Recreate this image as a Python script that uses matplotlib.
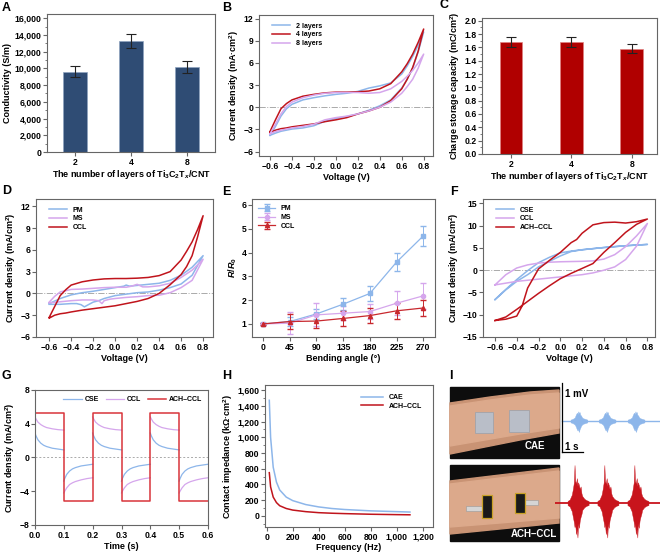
import numpy as np
import matplotlib
matplotlib.use("Agg")
import matplotlib.pyplot as plt
from matplotlib.patches import Rectangle, Polygon
from matplotlib.ticker import FuncFormatter, AutoMinorLocator

plt.rcParams['font.family'] = ['Liberation Sans', 'DejaVu Sans']
plt.rcParams['font.weight'] = 'bold'
plt.rcParams['axes.labelweight'] = 'bold'
plt.rcParams['mathtext.fontset'] = 'custom'
plt.rcParams['mathtext.rm'] = 'Liberation Sans:bold'
plt.rcParams['mathtext.it'] = 'Liberation Sans:italic:bold'
plt.rcParams['mathtext.bf'] = 'Liberation Sans:bold'
plt.rcParams['axes.unicode_minus'] = True

# ---------------- data ----------------
layers = ['2', '4', '8']
conductivity = [9600, 13250, 10200]
conductivity_err = [650, 850, 700]
charge_cap = [1.68, 1.68, 1.58]
charge_cap_err = [0.07, 0.08, 0.07]

# Panel B (CV, different layers) upper/lower branches on a shared voltage grid
vB = [-0.6, -0.55, -0.5, -0.45, -0.4, -0.3, -0.2, -0.1, 0.0, 0.1, 0.2, 0.3, 0.4, 0.5, 0.6, 0.65, 0.7, 0.75, 0.8]
l2_up = [-3.8, -2.6, -1.2, -0.2, 0.4, 1.0, 1.3, 1.55, 1.75, 1.9, 2.15, 2.6, 2.9, 3.3, 4.5, 5.6, 6.9, 8.4, 10.2]
l2_dn = [-3.8, -3.5, -3.25, -3.1, -2.95, -2.8, -2.5, -1.9, -1.5, -1.25, -0.9, -0.4, 0.2, 1.0, 2.6, 3.8, 5.3, 7.5, 10.2]
l4_up = [-3.3, -1.7, -0.2, 0.5, 1.0, 1.5, 1.75, 1.95, 2.05, 2.05, 2.1, 2.2, 2.5, 3.2, 4.8, 5.9, 7.2, 8.8, 10.6]
l4_dn = [-3.4, -3.1, -2.9, -2.8, -2.65, -2.45, -2.25, -1.95, -1.7, -1.4, -0.9, -0.5, 0.0, 0.9, 2.5, 3.8, 5.4, 7.6, 10.6]
l8_up = [-3.6, -2.3, -0.9, 0.1, 0.7, 1.3, 1.65, 1.9, 2.0, 2.0, 2.0, 1.9, 2.0, 2.5, 3.5, 4.2, 5.0, 6.0, 7.2]
l8_dn = [-3.6, -3.3, -3.1, -2.95, -2.8, -2.6, -2.3, -1.7, -1.4, -1.2, -0.9, -0.5, 0.0, 0.7, 1.9, 2.8, 3.8, 5.3, 7.2]

# Panel D (CV, PM / MS / CCL)
pm_v_up = [-0.6, -0.5, -0.4, -0.3, -0.2, -0.1, 0.0, 0.08, 0.1, 0.13, 0.2, 0.3, 0.4, 0.5, 0.6, 0.7, 0.8]
pm_i_up = [-1.4, -0.7, -0.2, 0.1, 0.3, 0.55, 0.8, 1.0, 1.15, 1.0, 1.1, 1.25, 1.4, 1.8, 2.5, 3.6, 5.2]
pm_v_dn = [0.8, 0.7, 0.6, 0.5, 0.4, 0.3, 0.2, 0.1, 0.0, -0.1, -0.15, -0.2, -0.25, -0.28, -0.31, -0.35, -0.4, -0.5, -0.6]
pm_i_dn = [5.2, 2.5, 1.3, 0.8, 0.45, 0.2, 0.1, -0.1, -0.3, -0.7, -1.0, -1.2, -1.6, -1.85, -1.55, -1.4, -1.4, -1.5, -1.5]
ms_v_up = [-0.6, -0.55, -0.5, -0.4, -0.3, -0.2, -0.1, 0.0, 0.1, 0.15, 0.2, 0.25, 0.3, 0.4, 0.5, 0.6, 0.7, 0.8]
ms_i_up = [-1.2, -0.4, 0.2, 0.55, 0.6, 0.7, 0.8, 0.85, 0.85, 1.0, 1.25, 0.9, 0.9, 1.05, 1.4, 2.2, 3.2, 4.7]
ms_v_dn = [0.8, 0.7, 0.6, 0.5, 0.4, 0.3, 0.2, 0.1, 0.0, -0.05, -0.1, -0.12, -0.15, -0.2, -0.3, -0.4, -0.5, -0.6]
ms_i_dn = [4.7, 1.8, 0.8, 0.1, -0.25, -0.3, -0.45, -0.55, -0.7, -0.8, -1.0, -1.4, -1.0, -0.9, -0.9, -1.0, -1.15, -1.3]
ccl_v = [-0.6, -0.55, -0.5, -0.45, -0.4, -0.3, -0.2, -0.1, 0.0, 0.1, 0.2, 0.3, 0.4, 0.5, 0.6, 0.65, 0.7, 0.75, 0.8]
ccl_up = [-3.3, -1.8, -0.3, 0.5, 1.15, 1.6, 1.85, 2.0, 2.05, 2.05, 2.1, 2.2, 2.45, 3.0, 4.6, 5.8, 7.1, 8.8, 10.7]
ccl_dn = [-3.4, -3.0, -2.8, -2.7, -2.55, -2.3, -2.1, -1.9, -1.7, -1.4, -1.1, -0.7, 0.0, 1.2, 2.6, 3.7, 5.2, 7.8, 10.7]

# Panel E (bending)
angles = [0, 45, 90, 135, 180, 225, 270]
pm_r = [1.0, 1.1, 1.42, 1.83, 2.28, 3.6, 4.7]
pm_r_err = [0.03, 0.2, 0.2, 0.25, 0.32, 0.37, 0.42]
ms_r = [1.0, 1.03, 1.38, 1.45, 1.52, 1.87, 2.18]
ms_r_err = [0.03, 0.47, 0.48, 0.3, 0.3, 0.5, 0.55]
ccl_r = [1.0, 1.1, 1.12, 1.23, 1.35, 1.55, 1.67]
ccl_r_err = [0.03, 0.3, 0.3, 0.3, 0.3, 0.33, 0.35]

# Panel F (CV, CSE / CCL / ACH-CCL)
vF = [-0.6, -0.5, -0.4, -0.3, -0.2, -0.1, 0.0, 0.1, 0.2, 0.3, 0.4, 0.5, 0.6, 0.7, 0.8]
cse_up = [-6.6, -4.3, -2.1, -0.1, 1.7, 2.9, 3.9, 4.3, 4.6, 4.85, 5.1, 5.3, 5.5, 5.65, 5.8]
cse_dn = [-6.6, -4.4, -2.5, -1.0, 0.75, 2.0, 3.2, 4.2, 4.6, 4.85, 5.1, 5.3, 5.5, 5.65, 5.8]
cclF_up = [-3.3, -1.0, 0.5, 1.2, 1.6, 1.8, 1.9, 1.95, 2.0, 2.1, 2.5, 3.5, 5.3, 7.7, 10.5]
cclF_dn = [-3.3, -2.9, -2.5, -2.25, -2.0, -1.75, -1.5, -1.25, -1.0, -0.6, 0.0, 0.75, 2.4, 5.4, 10.5]
ach_v_up = [-0.6, -0.5, -0.4, -0.35, -0.3, -0.2, -0.1, 0.0, 0.1, 0.15, 0.2, 0.3, 0.4, 0.5, 0.6, 0.7, 0.8]
ach_i_up = [-11.3, -11.0, -10.3, -8.0, -4.0, 0.3, 2.2, 4.0, 6.2, 6.9, 8.3, 10.2, 10.7, 10.8, 10.6, 10.9, 11.5]
ach_v_dn = [0.8, 0.7, 0.6, 0.5, 0.4, 0.3, 0.2, 0.1, 0.0, -0.1, -0.2, -0.3, -0.4, -0.5, -0.6]
ach_i_dn = [11.5, 10.3, 8.5, 6.2, 4.0, 1.5, 0.4, -0.7, -1.9, -3.5, -5.2, -7.0, -8.8, -10.5, -11.3]

# Panel G (pulse response): one half-period shape, repeated each cycle
g_edges = [0.0, 0.1, 0.2, 0.3, 0.4, 0.5, 0.6]
ach_pos, ach_neg = 5.3, -5.2
g_t = [0.0, 0.003, 0.01, 0.02, 0.03, 0.04, 0.06, 0.08, 0.1]
ccl_pos = [4.8, 4.6, 4.2, 3.9, 3.7, 3.55, 3.4, 3.3, 3.25]
ccl_neg = [-4.2, -4.0, -3.6, -3.2, -3.0, -2.85, -2.65, -2.5, -2.4]
cse_pos = [2.9, 2.6, 2.1, 1.7, 1.45, 1.3, 1.1, 1.0, 0.9]
cse_neg = [-2.8, -2.5, -2.0, -1.6, -1.35, -1.2, -1.0, -0.9, -0.8]

# Panel H (impedance)
freq = [20, 30, 50, 75, 100, 150, 200, 300, 400, 500, 600, 800, 1000, 1100]
cae_z = [1470, 1000, 620, 430, 330, 240, 195, 145, 115, 95, 82, 65, 55, 50]
ach_z = [550, 370, 240, 170, 130, 95, 75, 55, 42, 35, 30, 22, 17, 15]

# Panel I (EMG): burst centres (s) and envelopes (mV)
blue_bursts = [1.14, 2.48, 3.86]
red_bursts = [1.10, 2.52, 3.95]
bb_off = [-0.4, -0.3, -0.2, -0.15, -0.1, -0.06, -0.03, 0.0, 0.03, 0.06, 0.1, 0.15, 0.2, 0.3, 0.4]
bb_up = [0.02, 0.03, 0.05, 0.09, 0.12, 0.1, 0.14, 0.11, 0.13, 0.09, 0.08, 0.05, 0.04, 0.03, 0.02]
bb_lo = [-0.02, -0.03, -0.05, -0.08, -0.12, -0.14, -0.11, -0.16, -0.12, -0.1, -0.07, -0.05, -0.04, -0.03, -0.02]
rb_off = [-0.5, -0.4, -0.3, -0.25, -0.2, -0.17, -0.14, -0.1, -0.06, -0.03, 0.0, 0.04, 0.08, 0.12, 0.16, 0.2, 0.3, 0.4, 0.5]
rb_up = [0.03, 0.05, 0.12, 0.2, 0.3, 0.55, 0.32, 0.28, 0.36, 0.25, 0.3, 0.26, 0.2, 0.24, 0.14, 0.1, 0.06, 0.04, 0.03]
rb_lo = [-0.03, -0.05, -0.12, -0.2, -0.28, -0.35, -0.3, -0.45, -0.38, -0.5, -0.3, -0.36, -0.25, -0.2, -0.16, -0.1, -0.06, -0.04, -0.03]

# ---------------- style ----------------
BLUE = '#8db6ea'
RED = '#c0141c'
LILAC = '#d5a6ec'
BAR_BLUE = '#2f4c74'
BAR_RED = '#b00000'
SPINE = '#666666'
TFS = 6.2
LFS = 6.5

W, H = 660, 553
fig = plt.figure(figsize=(W / 100, H / 100), dpi=100)


def axpx(l, r, t, b):
    return fig.add_axes([l / W, 1 - b / H, (r - l) / W, (b - t) / H])


def style(ax, minor_y=False):
    for s in ax.spines.values():
        s.set_color(SPINE)
        s.set_linewidth(0.8)
    ax.tick_params(direction='out', length=2.8, width=0.8, colors='black',
                   labelsize=TFS, pad=1.2)
    ax.tick_params(axis='both', which='both', color=SPINE)
    if minor_y:
        ax.yaxis.set_minor_locator(AutoMinorLocator(2))
        ax.tick_params(axis='y', which='minor', length=1.6, width=0.6)
    for lab in ax.get_xticklabels() + ax.get_yticklabels():
        lab.set_fontweight('bold')


comma = FuncFormatter(lambda v, p: f'{v:,.0f}')
volt = FuncFormatter(lambda v, p: f'{v:.1f}'.replace('-', '\u2212'))
ti_label = r'The number of layers of Ti$_3$C$_2$T$_x$/CNT'


def panel_letter(x, y, s):
    fig.text(x / W, 1 - y / H, s, fontsize=9, fontweight='bold', va='baseline')


def zero_line(ax, ls='-.'):
    ax.axhline(0, color='#aaaaaa', lw=0.7, ls=ls, zorder=0)


def leg(ax, **kw):
    return ax.legend(frameon=False, prop={'size': 5, 'weight': 'bold'}, **kw)

# ---- A ----
ax = axpx(47, 215, 14, 152)
x = np.arange(1, 4)
ax.bar(x, conductivity, width=0.42, color=BAR_BLUE, edgecolor='#8ea3c0', lw=0.5,
       yerr=conductivity_err, capsize=3.5, error_kw=dict(lw=0.8, capthick=0.8, ecolor='#222222'))
ax.set_xlim(0.5, 3.5)
ax.set_ylim(0, 16500)
ax.set_yticks(range(0, 16001, 2000))
ax.yaxis.set_major_formatter(comma)
ax.set_xticks(x)
ax.set_xticklabels(layers)
ax.set_ylabel('Conductivity (S/m)', fontsize=LFS, labelpad=1.5)
ax.set_xlabel(ti_label, fontsize=LFS, labelpad=1)
style(ax, minor_y=True)
panel_letter(2, 11, 'A')

# ---- B ----
ax = axpx(259, 433, 15, 156)
zero_line(ax)
ax.plot(vB + vB[::-1], l2_up + l2_dn[::-1], color=BLUE, lw=1.1, label='2 layers')
ax.plot(vB + vB[::-1], l4_up + l4_dn[::-1], color=RED, lw=1.1, label='4 layers')
ax.plot(vB + vB[::-1], l8_up + l8_dn[::-1], color=LILAC, lw=1.1, label='8 layers')
ax.set_xlim(-0.7, 0.885)
ax.set_ylim(-6.6, 12.5)
ax.set_yticks(range(-6, 13, 3))
ax.set_xticks(np.round(np.arange(-0.6, 0.81, 0.2), 1))
ax.xaxis.set_major_formatter(volt)
ax.set_ylabel('Current density (mA·cm$^2$)', fontsize=LFS, labelpad=1.5)
ax.set_xlabel('Voltage (V)', fontsize=LFS, labelpad=1.5)
leg(ax, loc='upper left', bbox_to_anchor=(0.04, 0.99), handlelength=2.6, labelspacing=0.25)
style(ax)
panel_letter(222, 11, 'B')

# ---- C ----
ax = axpx(482, 657, 18, 154)
ax.bar(x, charge_cap, width=0.38, color=BAR_RED, edgecolor='#e08080', lw=0.5,
       yerr=charge_cap_err, capsize=3.5, error_kw=dict(lw=0.8, capthick=0.8, ecolor='#222222'))
ax.set_xlim(0.52, 3.42)
ax.set_ylim(0, 2.04)
ax.set_yticks(np.round(np.arange(0, 2.01, 0.2), 1))
ax.yaxis.set_major_formatter(FuncFormatter(lambda v, p: f'{v:.1f}'))
ax.set_xticks(x)
ax.set_xticklabels(layers)
ax.set_ylabel('Charge storage capacity (mC/cm$^2$)', fontsize=LFS, labelpad=1.5)
ax.set_xlabel(ti_label, fontsize=LFS, labelpad=1)
style(ax, minor_y=True)
panel_letter(440, 8, 'C')

# ---- D ----
ax = axpx(36, 213, 199, 337)
zero_line(ax)
ax.plot(pm_v_up + pm_v_dn, pm_i_up + pm_i_dn, color=BLUE, lw=1.1, label='PM')
ax.plot(ms_v_up + ms_v_dn, ms_i_up + ms_i_dn, color=LILAC, lw=1.1, label='MS')
ax.plot(ccl_v + ccl_v[::-1], ccl_up + ccl_dn[::-1], color=RED, lw=1.1, label='CCL')
ax.set_xlim(-0.72, 0.89)
ax.set_ylim(-6, 13.0)
ax.set_yticks(range(-6, 13, 3))
ax.set_xticks(np.round(np.arange(-0.6, 0.81, 0.2), 1))
ax.xaxis.set_major_formatter(volt)
ax.set_ylabel('Current density (mA/cm$^2$)', fontsize=LFS, labelpad=1.5)
ax.set_xlabel('Voltage (V)', fontsize=LFS, labelpad=1.5)
leg(ax, loc='upper left', bbox_to_anchor=(0.04, 0.99), handlelength=2.6, labelspacing=0.25)
style(ax)
panel_letter(2, 194, 'D')

# ---- E ----
ax = axpx(252, 435, 199, 337)
ax.errorbar(angles, pm_r, yerr=pm_r_err, color=BLUE, marker='s', ms=3, lw=0.9,
            elinewidth=0.7, capsize=2, label='PM')
ax.errorbar(angles, ms_r, yerr=ms_r_err, color=LILAC, marker='o', ms=3, lw=0.9,
            elinewidth=0.7, capsize=2, label='MS')
ax.errorbar(angles, ccl_r, yerr=ccl_r_err, color='#c8282e', marker='^', ms=3, lw=0.9,
            elinewidth=0.7, capsize=2, label='CCL')
ax.set_xlim(-18.6, 289.7)
ax.set_ylim(0.45, 6.25)
ax.set_xticks(angles)
ax.set_yticks(range(1, 7))
ax.set_ylabel(r'$R/R_0$', fontsize=LFS, labelpad=1.5)
ax.set_xlabel('Bending angle (°)', fontsize=LFS, labelpad=1.5)
leg(ax, loc='upper left', bbox_to_anchor=(0.0, 1.0), handlelength=2.4, labelspacing=0.25)
style(ax)
panel_letter(222, 195, 'E')

# ---- F ----
ax = axpx(483, 655, 199, 337)
zero_line(ax)
ax.plot(vF + vF[::-1], cse_up + cse_dn[::-1], color=BLUE, lw=1.1, label='CSE')
ax.plot(vF + vF[::-1], cclF_up + cclF_dn[::-1], color=LILAC, lw=1.1, label='CCL')
ax.plot(ach_v_up + ach_v_dn, ach_i_up + ach_i_dn, color=RED, lw=1.1, label='ACH\u2013CCL')
ax.set_xlim(-0.71, 0.87)
ax.set_ylim(-15, 16)
ax.set_yticks(range(-15, 16, 5))
ax.set_xticks(np.round(np.arange(-0.6, 0.81, 0.2), 1))
ax.xaxis.set_major_formatter(volt)
ax.set_ylabel('Current density (mA/cm$^2$)', fontsize=LFS, labelpad=1.5)
ax.set_xlabel('Voltage (V)', fontsize=LFS, labelpad=1.5)
leg(ax, loc='upper left', bbox_to_anchor=(0.04, 0.99), handlelength=2.6, labelspacing=0.25)
style(ax)
panel_letter(450, 195, 'F')

# ---- G ----
ax = axpx(35, 208, 390, 525)
zero_line(ax, ls=(0, (2, 2)))
gt = np.array(g_t)
for k in range(len(g_edges) - 1):
    t0 = g_edges[k]
    pos = (k % 2 == 0)
    ax.plot(t0 + gt, cse_pos if pos else cse_neg, color=BLUE, lw=0.9,
            label='CSE' if k == 0 else None)
    ax.plot(t0 + gt, ccl_pos if pos else ccl_neg, color=LILAC, lw=0.9,
            label='CCL' if k == 0 else None)
sq_t, sq_v = [], []
for k in range(len(g_edges) - 1):
    lvl = ach_pos if k % 2 == 0 else ach_neg
    sq_t += [g_edges[k], g_edges[k + 1]]
    sq_v += [lvl, lvl]
ax.plot(sq_t, sq_v, color='#d8343a', lw=1.1, label='ACH\u2013CCL')
ax.set_xlim(0, 0.6)
ax.set_ylim(-8, 8)
ax.set_yticks([-8, -4, 0, 4, 8])
ax.set_xticks(np.round(np.arange(0, 0.61, 0.1), 1))
ax.xaxis.set_major_formatter(FuncFormatter(lambda v, p: f'{v:.1f}'))
ax.set_ylabel('Current density (mA/cm$^2$)', fontsize=LFS, labelpad=1.5)
ax.set_xlabel('Time (s)', fontsize=LFS, labelpad=1.5)
leg(ax, loc='upper right', bbox_to_anchor=(1.0, 1.0), ncol=3, handlelength=2.6,
    columnspacing=1.0, handletextpad=0.4)
style(ax)
panel_letter(2, 379, 'G')

# ---- H ----
ax = axpx(265, 433, 385, 527)
ax.plot(freq, cae_z, color=BLUE, lw=1.1, label='CAE')
ax.plot(freq, ach_z, color=RED, lw=1.1, label='ACH\u2013CCL')
ax.set_xlim(-13, 1277)
ax.set_ylim(-140, 1664)
ax.set_yticks(range(0, 1601, 200))
ax.set_xticks(range(0, 1201, 200))
ax.yaxis.set_major_formatter(comma)
ax.xaxis.set_major_formatter(comma)
ax.set_ylabel('Contact impedance (k\u03a9·cm$^2$)', fontsize=LFS, labelpad=1.5)
ax.set_xlabel('Frequency (Hz)', fontsize=LFS, labelpad=1)
leg(ax, loc='upper right', bbox_to_anchor=(0.97, 0.98), handlelength=3.2, labelspacing=0.25)
style(ax, minor_y=True)
panel_letter(222, 379, 'H')

# ---- I (illustration of photos) ----
axI = fig.add_axes([440 / W, 0, 220 / W, (H - 365) / H])
axI.set_xlim(440, 660)
axI.set_ylim(553, 365)
axI.axis('off')
SKIN = '#dca98b'
SKIN_D = '#c99374'
# CAE photo
axI.add_patch(Rectangle((450, 387), 109, 71, color='#0d0d0d'))
axI.add_patch(Polygon([(450, 403), (490, 397), (530, 392), (559, 390), (559, 433),
                       (520, 440), (485, 447), (450, 454)], closed=True, color=SKIN_D))
axI.add_patch(Polygon([(450, 406), (490, 400), (530, 395), (559, 393), (559, 428),
                       (520, 434), (485, 440), (450, 446)], closed=True, color=SKIN))
axI.add_patch(Rectangle((475, 412), 18, 21, fc='#b9bec8', ec='#9aa0aa', lw=0.5))
axI.add_patch(Rectangle((509, 410), 20, 22, fc='#b9bec8', ec='#9aa0aa', lw=0.5))
axI.text(535, 449, 'CAE', color='white', fontsize=7, fontweight='bold', ha='center')
# ACH-CCL photo
axI.add_patch(Rectangle((450, 465), 109, 76, color='#0d0d0d'))
axI.add_patch(Polygon([(450, 481), (500, 475), (559, 468), (559, 523),
                       (500, 529), (450, 534)], closed=True, color=SKIN_D))
axI.add_patch(Polygon([(450, 484), (500, 478), (559, 471), (559, 518),
                       (500, 523), (450, 527)], closed=True, color=SKIN))
axI.add_patch(Rectangle((466, 506), 17, 5, fc='#d5d5d5', ec='#999999', lw=0.4))
axI.add_patch(Rectangle((524, 500), 14, 5, fc='#d5d5d5', ec='#999999', lw=0.4))
axI.add_patch(Rectangle((482, 495), 10, 23, fc='#1a1a1a', ec='#c9a227', lw=0.9))
axI.add_patch(Rectangle((515, 493), 10, 20, fc='#1a1a1a', ec='#c9a227', lw=0.9))
axI.text(534, 537, 'ACH\u2013CCL', color='white', fontsize=7, fontweight='bold', ha='center')
fig.text(449 / W, 1 - 379 / H, 'I', fontsize=9, fontweight='bold', va='baseline')

# EMG signals on time (s) / voltage (mV) axes: 21 px per s, 69 px per mV
axS = axpx(555, 660, 380, 545)
axS.set_xlim(0, 105 / 21)
axS.set_ylim(-165 / 69, 0)
axS.axis('off')
blue_base, red_base = -41 / 69, -123 / 69
t_start_blue = 7 / 21
axS.plot([t_start_blue, 5], [blue_base, blue_base], color=BLUE, lw=1.0)
axS.plot([0, 5], [red_base, red_base], color='#c8141c', lw=1.3)
for c in blue_bursts:
    tt = c + np.array(bb_off)
    axS.fill_between(tt, blue_base + np.array(bb_lo), blue_base + np.array(bb_up),
                     color=BLUE, lw=0.3)
for c in red_bursts:
    tt = c + np.array(rb_off)
    axS.fill_between(tt, red_base + np.array(rb_lo), red_base + np.array(rb_up),
                     color='#c8141c', lw=0.3)
# scale bars
axS.plot([t_start_blue, t_start_blue], [-3 / 69, -3 / 69 - 1.0], color='black', lw=0.9)
axS.plot([t_start_blue, t_start_blue + 1.0], [-3 / 69 - 1.0, -3 / 69 - 1.0], color='black', lw=0.9)
axS.text(t_start_blue + 0.12, -0.2, '1 mV', fontsize=7, fontweight='bold', va='center')
axS.text(t_start_blue + 0.12, -0.97, '1 s', fontsize=7, fontweight='bold', va='center')

fig.savefig('out.png', dpi=100)
